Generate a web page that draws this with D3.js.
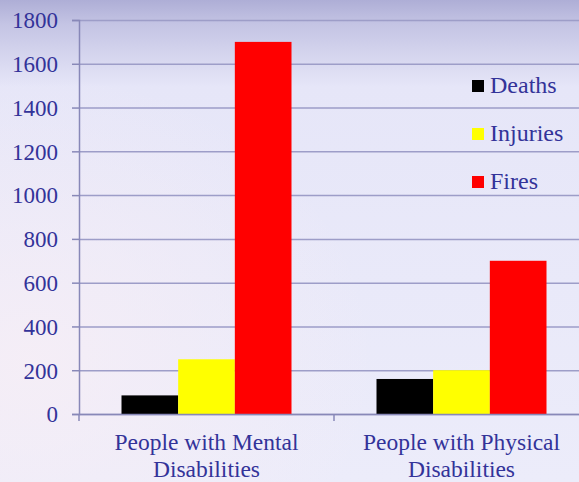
<!DOCTYPE html>
<html>
<head>
<meta charset="utf-8">
<script src="https://cdn.jsdelivr.net/npm/d3@7"></script>
<style>
  html, body { margin: 0; padding: 0; overflow: hidden; }
  svg { display: block; }
  text { font-family: "Liberation Serif", "Times New Roman", serif; fill: #333399; }
</style>
</head>
<body>
<div id="chart"></div>
<script>
// chart data
const categories = ['People with Mental Disabilities', 'People with Physical Disabilities'];
const categoryLines = [['People with Mental', 'Disabilities'], ['People with Physical', 'Disabilities']];
const seriesNames = ['Deaths', 'Injuries', 'Fires'];
const seriesColors = ['#000000', '#ffff00', '#ff0000'];
const deaths = [85, 160];
const injuries = [250, 200];
const fires = [1700, 700];
const yTicks = [0, 200, 400, 600, 800, 1000, 1200, 1400, 1600, 1800];

const W = 579, H = 482;
const margin = {top: 20, left: 79, bottom: 68};
const values = [deaths, injuries, fires];

const svg = d3.select('#chart').append('svg')
    .attr('width', W)
    .attr('height', H);

// background
const defs = svg.append('defs');
const bg = defs.append('linearGradient').attr('id', 'bg')
    .attr('x1', 0).attr('y1', 0).attr('x2', 0).attr('y2', 1);
bg.append('stop').attr('offset', '0%').attr('stop-color', '#aeaed6');
bg.append('stop').attr('offset', '5%').attr('stop-color', '#c4c4e4');
bg.append('stop').attr('offset', '18%').attr('stop-color', '#e6e6f8');
bg.append('stop').attr('offset', '100%').attr('stop-color', '#ececfa');
const pink = defs.append('radialGradient').attr('id', 'pink')
    .attr('cx', 0.05).attr('cy', 0.75).attr('r', 0.6);
pink.append('stop').attr('offset', '0%').attr('stop-color', '#f6eef6').attr('stop-opacity', 0.9);
pink.append('stop').attr('offset', '100%').attr('stop-color', '#f6eef6').attr('stop-opacity', 0);

svg.append('rect').attr('width', W).attr('height', H).attr('fill', 'url(#bg)');
svg.append('rect').attr('width', W).attr('height', H).attr('fill', 'url(#pink)');

const y = d3.scaleLinear()
    .domain([0, 1800])
    .range([H - margin.bottom, margin.top]);

const x = d3.scaleBand()
    .domain(categories)
    .range([margin.left, margin.left + 2 * 255])
    .padding(0);

const xs = d3.scaleBand()
    .domain(seriesNames)
    .range([x.bandwidth() / 6, x.bandwidth() * 5 / 6])
    .padding(0);

// gridlines
const grid = svg.append('g')
    .attr('transform', 'translate(' + margin.left + ',0)')
    .call(d3.axisLeft(y).tickValues(yTicks).tickSize(-(W - margin.left)).tickFormat(''));
grid.select('.domain').remove();
grid.selectAll('line').attr('stroke', '#9d9dc8').attr('stroke-width', 1.5);

// bars
const groups = svg.append('g').selectAll('g')
    .data(categories)
    .enter()
    .append('g')
    .attr('transform', function (d) { return 'translate(' + x(d) + ',0)'; });

groups.selectAll('rect')
    .data(function (d, i) {
        return seriesNames.map(function (s, j) { return {s: s, v: values[j][i], c: seriesColors[j]}; });
    })
    .enter()
    .append('rect')
    .attr('x', function (d) { return xs(d.s); })
    .attr('y', function (d) { return y(d.v); })
    .attr('width', xs.bandwidth())
    .attr('height', function (d) { return y(0) - y(d.v); })
    .attr('fill', function (d) { return d.c; });

// y axis
const yAxis = svg.append('g')
    .attr('transform', 'translate(' + margin.left + ',0)')
    .call(d3.axisLeft(y).tickValues(yTicks).tickFormat(d3.format('d')).tickSize(7).tickPadding(14));
yAxis.attr('font-size', 23).attr('font-family', '"Liberation Serif", serif');
yAxis.select('.domain').attr('stroke', '#8888b8').attr('stroke-width', 1.5);
yAxis.selectAll('line').attr('stroke', '#8888b8').attr('stroke-width', 1.5);
yAxis.selectAll('text').attr('fill', '#333399').attr('dy', '0.34em');

// x axis
const xAxis = svg.append('g')
    .attr('transform', 'translate(0,' + y(0) + ')')
    .call(d3.axisBottom(x).tickValues([]).tickSizeOuter(0));
xAxis.select('.domain').attr('stroke', '#8888b8').attr('stroke-width', 1.5);
xAxis.selectAll('.sep')
    .data(categories)
    .enter()
    .append('line')
    .attr('x1', function (d) { return x(d); })
    .attr('x2', function (d) { return x(d); })
    .attr('y1', 0).attr('y2', 7)
    .attr('stroke', '#8888b8').attr('stroke-width', 1.5);

// category labels
const labels = svg.append('g').selectAll('text')
    .data(categories)
    .enter()
    .append('text')
    .attr('text-anchor', 'middle')
    .attr('font-size', 23.5)
    .attr('x', function (d) { return x(d) + x.bandwidth() / 2; })
    .attr('y', 450);
labels.selectAll('tspan')
    .data(function (d, i) { return categoryLines[i]; })
    .enter()
    .append('tspan')
    .attr('x', function () { return d3.select(this.parentNode).attr('x'); })
    .attr('dy', function (d, i) { return i === 0 ? 0 : 27; })
    .text(function (d) { return d; });

// legend
const legend = svg.append('g').selectAll('g')
    .data(seriesNames)
    .enter()
    .append('g')
    .attr('transform', function (d, i) { return 'translate(472,' + (80 + i * 48) + ')'; });
legend.append('rect')
    .attr('width', 12).attr('height', 12)
    .attr('fill', function (d, i) { return seriesColors[i]; });
legend.append('text')
    .attr('x', 18).attr('y', 13)
    .attr('font-size', 24)
    .text(function (d) { return d; });
</script>
</body>
</html>
